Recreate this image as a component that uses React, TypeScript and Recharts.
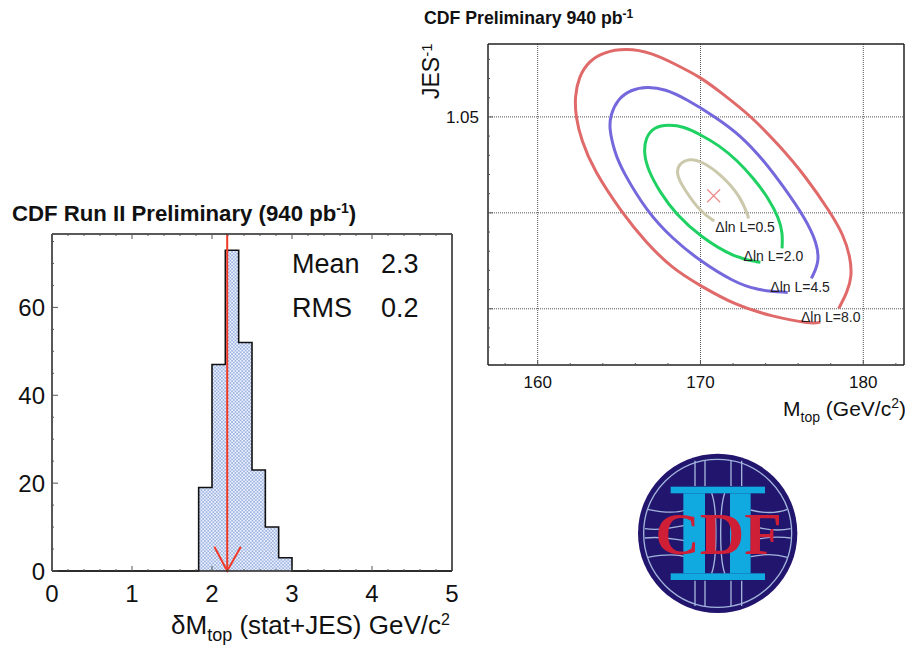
import { ComposedChart, Area, Line, Scatter, XAxis, YAxis, CartesianGrid, ReferenceLine } from 'recharts';

// left histogram
const binEdges = [1.8333, 2, 2.1667, 2.3333, 2.5, 2.6667, 2.8333, 3];
const binCounts = [19, 47, 73, 52, 23, 10, 3];
const histXTicks = [0, 0.2, 0.4, 0.6, 0.8, 1, 1.2, 1.4, 1.6, 1.8, 2, 2.2, 2.4, 2.6, 2.8, 3, 3.2, 3.4, 3.6, 3.8, 4, 4.2, 4.4, 4.6, 4.8, 5];
const histXLabels = [0, 1, 2, 3, 4, 5];
const histYTicks = [0, 5, 10, 15, 20, 25, 30, 35, 40, 45, 50, 55, 60, 65, 70, 75];
const histYLabels = [0, 20, 40, 60];
const arrowX = [2.03, 2.19, 2.36];
const arrowY = [5.5, 0, 5.5];

// right contour plot
const massTicks = [158, 160, 162, 164, 166, 168, 170, 172, 174, 176, 178, 180, 182];
const massLabels = [160, 170, 180];
const jesTicks = [0.93, 0.94, 0.95, 0.96, 0.97, 0.98, 0.99, 1.0, 1.01, 1.02, 1.03, 1.04, 1.05, 1.06, 1.07, 1.08];
const jesMajor = [0.95, 1.0, 1.05];

const redMass = [178.49, 179.02, 179.3, 179.2, 178.78, 178.0, 176.4, 174.91, 173.17, 171.22, 169.99, 168.46, 167.03, 165.39, 164.1, 163.14, 162.52, 162.28, 162.34, 162.68, 163.44, 165.18, 166.62, 168.26, 169.99, 172.14, 174.29, 176.86, 177.36];
const redJes = [0.9502, 0.9587, 0.967, 0.9771, 0.9884, 1.0, 1.0196, 1.0344, 1.05, 1.063, 1.0708, 1.0774, 1.0835, 1.0858, 1.0838, 1.0792, 1.0708, 1.0604, 1.05, 1.0379, 1.0222, 1.0, 0.9849, 0.971, 0.962, 0.9519, 0.9462, 0.942, 0.9431];
const blueMass = [176.81, 177.3, 177.16, 176.44, 175.11, 173.88, 172.45, 170.92, 169.07, 167.84, 166.72, 165.72, 164.9, 164.47, 164.39, 164.72, 165.18, 166.72, 168.26, 169.99, 172.02, 173.48, 175.36];
const blueJes = [0.9658, 0.9743, 0.9842, 0.9971, 1.0135, 1.0274, 1.0405, 1.05, 1.0596, 1.0645, 1.0658, 1.0642, 1.0592, 1.0509, 1.044, 1.0318, 1.0222, 1.0005, 0.9867, 0.9748, 0.9641, 0.9596, 0.9585];
const greenMass = [175.01, 175.05, 174.82, 174.19, 173.27, 172.25, 171.12, 169.99, 168.97, 168.05, 167.15, 166.62, 166.52, 166.78, 167.54, 168.46, 169.99, 172.14, 173.68];
const greenJes = [0.9815, 0.9894, 0.9971, 1.0075, 1.0179, 1.0274, 1.0353, 1.0408, 1.045, 1.046, 1.0448, 1.0392, 1.0309, 1.0222, 1.0103, 0.9997, 0.9875, 0.9764, 0.9742];
const beigeMass = [172.96, 172.5, 171.22, 169.99, 169.35, 168.68, 168.5, 168.97, 169.99, 170.85];
const beigeJes = [0.9971, 1.0083, 1.0205, 1.0272, 1.0282, 1.0258, 1.0202, 1.0127, 1.0005, 0.9957];
const bestMass = [170.81];
const bestJes = [1.0089];
const contourNames = ['Δln L=0.5', 'Δln L=2.0', 'Δln L=4.5', 'Δln L=8.0'];
const contourNameMass = [170.91, 172.65, 174.29, 176.17];
const contourNameJes = [0.9901, 0.975, 0.9589, 0.9432];

const histPoints: { x: number; y: number }[] = [
  { x: 0, y: 0 },
  { x: binEdges[0], y: 0 },
  ...binCounts.map((c, i) => ({ x: binEdges[i], y: c })),
  { x: binEdges[binEdges.length - 1], y: 0 },
  { x: 5, y: 0 },
];
const arrowPoints = arrowX.map((x, i) => ({ x, y: arrowY[i] }));
const toPoints = (ms: number[], js: number[]) => ms.map((m, i) => ({ m, j: js[i] }));
const namePoints = contourNames.map((name, i) => ({ m: contourNameMass[i], j: contourNameJes[i], name }));

const SANS = '"Liberation Sans", Arial, sans-serif';
const FRAME = '#222';

type TickOpts = { major: (v: number) => boolean; label?: (v: number) => boolean; size: number; minor: number; major_len: number; fmt?: (v: number) => string; off: number };

const xTick = (o: TickOpts, side: 'bottom' | 'top') => (props: any) => {
  const { x, y, payload } = props;
  const len = o.major(payload.value) ? o.major_len : o.minor;
  return (
    <g>
      <line x1={x} x2={x} y1={y} y2={side === 'bottom' ? y - len : y + len} stroke="#555" strokeWidth={1} />
      {side === 'bottom' && o.label && o.label(payload.value) && (
        <text x={x} y={y + o.off} textAnchor="middle" fontFamily={SANS} fontSize={o.size} fill="#111">{payload.value}</text>
      )}
    </g>
  );
};

const yTick = (o: TickOpts, side: 'left' | 'right') => (props: any) => {
  const { x, y, payload } = props;
  const len = o.major(payload.value) ? o.major_len : o.minor;
  return (
    <g>
      <line x1={x} x2={side === 'left' ? x + len : x - len} y1={y} y2={y} stroke="#555" strokeWidth={1} />
      {side === 'left' && o.label && o.label(payload.value) && (
        <text x={x - o.off} y={y + o.size * 0.36} textAnchor="end" fontFamily={SANS} fontSize={o.size} fill="#111">
          {o.fmt ? o.fmt(payload.value) : payload.value}
        </text>
      )}
    </g>
  );
};

const histX: TickOpts = { major: v => histXLabels.includes(v), label: v => histXLabels.includes(v), size: 24, minor: 2, major_len: 5, off: 31 };
const histY: TickOpts = { major: v => histYLabels.includes(v), label: v => histYLabels.includes(v), size: 24, minor: 2, major_len: 6, off: 7 };
const massT: TickOpts = { major: v => massLabels.includes(v), label: v => massLabels.includes(v), size: 17, minor: 2, major_len: 5, off: 23 };
const jesT: TickOpts = { major: v => jesMajor.includes(v), label: v => v === 1.05, size: 17, minor: 2, major_len: 5, off: 9, fmt: v => v.toFixed(2) };

const crossShape = (props: any) => {
  const { cx, cy } = props;
  return (
    <path d={`M${cx - 6.5} ${cy - 6.5}L${cx + 6.5} ${cy + 6.5}M${cx + 6.5} ${cy - 6.5}L${cx - 6.5} ${cy + 6.5}`} stroke="#f08a8a" strokeWidth={1.2} fill="none" />
  );
};
const nameShape = (props: any) => (
  <text x={props.cx} y={props.cy} fontFamily={SANS} fontSize={14} fill="#222">{props.payload.name}</text>
);

function Overlay() {
  return (
    <svg width={905} height={645} style={{ position: 'absolute', left: 0, top: 0, pointerEvents: 'none' }} fontFamily={SANS}>
      <text x={12} y={221} fontSize={22.2} fontWeight="bold" fill="#111">
        CDF Run II Preliminary (940 pb<tspan dy={-8} fontSize={14}>-1</tspan><tspan dy={8}>)</tspan>
      </text>
      <text x={292} y={273} fontSize={27} fill="#111">Mean</text>
      <text x={381} y={273} fontSize={27} fill="#111">2.3</text>
      <text x={292} y={317} fontSize={27} fill="#111">RMS</text>
      <text x={381} y={317} fontSize={27} fill="#111">0.2</text>
      <text x={171} y={634} fontSize={26} fill="#111">
        δM<tspan dy={7} fontSize={18}>top</tspan><tspan dy={-7}> (stat+JES) GeV/c</tspan><tspan dy={-9} fontSize={16}>2</tspan>
      </text>

      <text x={424} y={24} fontSize={17.7} fontWeight="bold" fill="#111">
        CDF Preliminary 940 pb<tspan dy={-6} fontSize={12}>-1</tspan>
      </text>
      <text transform="translate(439,99) rotate(-90)" fontSize={23} fill="#111">
        JES<tspan dy={-7} fontSize={15}>-1</tspan>
      </text>
      <text x={783} y={416} fontSize={21} fill="#111">
        M<tspan dy={6} fontSize={14}>top</tspan><tspan dy={-6}> (GeV/c</tspan><tspan dy={-8} fontSize={14}>2</tspan><tspan dy={8}>)</tspan>
      </text>

      {/* CDF logo */}
      <svg x={630} y={450} width={170} height={170} viewBox="0 0 510 510">
        <circle cx={263} cy={250} r={239} fill="#22156e" />
        <circle cx={263} cy={250} r={222} fill="none" stroke="#a3b5dc" strokeWidth={4} />
        <g fill="none" stroke="#a3b5dc" strokeWidth={4}>
          <path d="M195 32V108M335 32V108M195 392V468M335 392V468M225 392V468M303 392V468M225 32V108M303 32V108" />
          <path d="M53 178C110 190 140 190 165 180M362 180C400 190 440 190 472 178M45 236C100 245 130 230 165 226M362 226C390 235 440 245 482 236M45 264C100 258 130 268 165 272M362 272C390 265 440 258 482 264M53 322C110 312 140 312 165 320M362 320C400 312 440 312 472 322" />
        </g>
        <rect x={122} y={110} width={283} height={20} fill="#10a9e0" />
        <rect x={122} y={370} width={283} height={20} fill="#10a9e0" />
        <rect x={160} y={130} width={65} height={240} fill="#10a9e0" />
        <rect x={300} y={130} width={62} height={240} fill="#10a9e0" />
        <path d="M245 130C262 175 262 325 245 370M284 130C268 175 268 325 284 370" fill="none" stroke="#a3b5dc" strokeWidth={4} />
        <text x={76} y={312} fontFamily='"Liberation Serif", serif' fontSize={178} fontWeight="bold" fill="#cf1f36" textLength={380} lengthAdjust="spacingAndGlyphs">CDF</text>
      </svg>
    </svg>
  );
}

export default function App() {
  return (
    <div style={{ position: 'absolute', left: 0, top: 0, width: 905, height: 645, background: '#fff' }}>
      <svg width={0} height={0} style={{ position: 'absolute' }}>
        <defs>
          <pattern id="histDots" width={3.4} height={3.4} patternUnits="userSpaceOnUse">
            <rect width={3.4} height={3.4} fill="#eef2fb" />
            <rect x={0} y={0} width={1.7} height={1.7} fill="#9db4e4" />
            <rect x={1.7} y={1.7} width={1.7} height={1.7} fill="#9db4e4" />
          </pattern>
        </defs>
      </svg>

      <div style={{ position: 'absolute', left: 0, top: 190 }}>
        <ComposedChart width={470} height={455} data={histPoints} margin={{ top: 43, right: 17, bottom: 73, left: 51 }}>
          <XAxis xAxisId="b" dataKey="x" type="number" domain={[0, 5]} ticks={histXTicks} interval={0} height={1} stroke={FRAME} strokeWidth={1.5} tickLine={false} tickSize={0} tickMargin={0} tick={xTick(histX, 'bottom')} />
          <XAxis xAxisId="t" orientation="top" dataKey="x" type="number" domain={[0, 5]} ticks={histXTicks} interval={0} height={1} stroke={FRAME} strokeWidth={1.5} tickLine={false} tickSize={0} tickMargin={0} tick={xTick(histX, 'top')} />
          <YAxis yAxisId="l" type="number" domain={[0, 76.7]} ticks={histYTicks} interval={0} width={1} stroke={FRAME} strokeWidth={1.5} tickLine={false} tickSize={0} tickMargin={0} tick={yTick(histY, 'left')} />
          <YAxis yAxisId="r" orientation="right" type="number" domain={[0, 76.7]} ticks={histYTicks} interval={0} width={1} stroke={FRAME} strokeWidth={1.5} tickLine={false} tickSize={0} tickMargin={0} tick={yTick(histY, 'right')} />
          <Area xAxisId="b" yAxisId="l" type="stepAfter" dataKey="y" stroke="#111" strokeWidth={1.6} fill="url(#histDots)" fillOpacity={1} dot={false} activeDot={false} isAnimationActive={false} />
          <ReferenceLine xAxisId="b" yAxisId="l" x={2.19} stroke="#f03a28" strokeWidth={2} />
          <Line xAxisId="b" yAxisId="l" data={arrowPoints} type="linear" dataKey="y" stroke="#f03a28" strokeWidth={2} dot={false} activeDot={false} isAnimationActive={false} />
        </ComposedChart>
      </div>

      <div style={{ position: 'absolute', left: 410, top: 0 }}>
        <ComposedChart width={495} height={430} margin={{ top: 43, right: 0, bottom: 64, left: 77 }}>
          <CartesianGrid xAxisId="b" yAxisId="l" stroke="#555" strokeDasharray="1 1" verticalValues={massLabels} horizontalValues={jesMajor} />
          <XAxis xAxisId="b" dataKey="m" type="number" domain={[156.95, 182.5]} ticks={massTicks} interval={0} height={1} stroke={FRAME} strokeWidth={1.5} tickLine={false} tickSize={0} tickMargin={0} tick={xTick(massT, 'bottom')} />
          <XAxis xAxisId="t" orientation="top" dataKey="m" type="number" domain={[156.95, 182.5]} ticks={massTicks} interval={0} height={1} stroke={FRAME} strokeWidth={1.5} tickLine={false} tickSize={0} tickMargin={0} tick={xTick(massT, 'top')} />
          <YAxis yAxisId="l" dataKey="j" type="number" domain={[0.9207, 1.088]} ticks={jesTicks} interval={0} width={1} stroke={FRAME} strokeWidth={1.5} tickLine={false} tickSize={0} tickMargin={0} tick={yTick(jesT, 'left')} />
          <YAxis yAxisId="r" orientation="right" dataKey="j" type="number" domain={[0.9207, 1.088]} ticks={jesTicks} interval={0} width={1} stroke={FRAME} strokeWidth={1.5} tickLine={false} tickSize={0} tickMargin={0} tick={yTick(jesT, 'right')} />
          <Line xAxisId="b" yAxisId="l" data={toPoints(redMass, redJes)} type="basis" dataKey="j" stroke="#e0696a" strokeWidth={3} dot={false} activeDot={false} isAnimationActive={false} />
          <Line xAxisId="b" yAxisId="l" data={toPoints(blueMass, blueJes)} type="basis" dataKey="j" stroke="#7468dc" strokeWidth={3} dot={false} activeDot={false} isAnimationActive={false} />
          <Line xAxisId="b" yAxisId="l" data={toPoints(greenMass, greenJes)} type="basis" dataKey="j" stroke="#1fd163" strokeWidth={3} dot={false} activeDot={false} isAnimationActive={false} />
          <Line xAxisId="b" yAxisId="l" data={toPoints(beigeMass, beigeJes)} type="basis" dataKey="j" stroke="#cbc8ac" strokeWidth={3} dot={false} activeDot={false} isAnimationActive={false} />
          <Scatter xAxisId="b" yAxisId="l" data={toPoints(bestMass, bestJes)} dataKey="j" shape={crossShape} isAnimationActive={false} />
          <Scatter xAxisId="b" yAxisId="l" data={namePoints} dataKey="j" shape={nameShape} isAnimationActive={false} />
        </ComposedChart>
      </div>

      <Overlay />
    </div>
  );
}
